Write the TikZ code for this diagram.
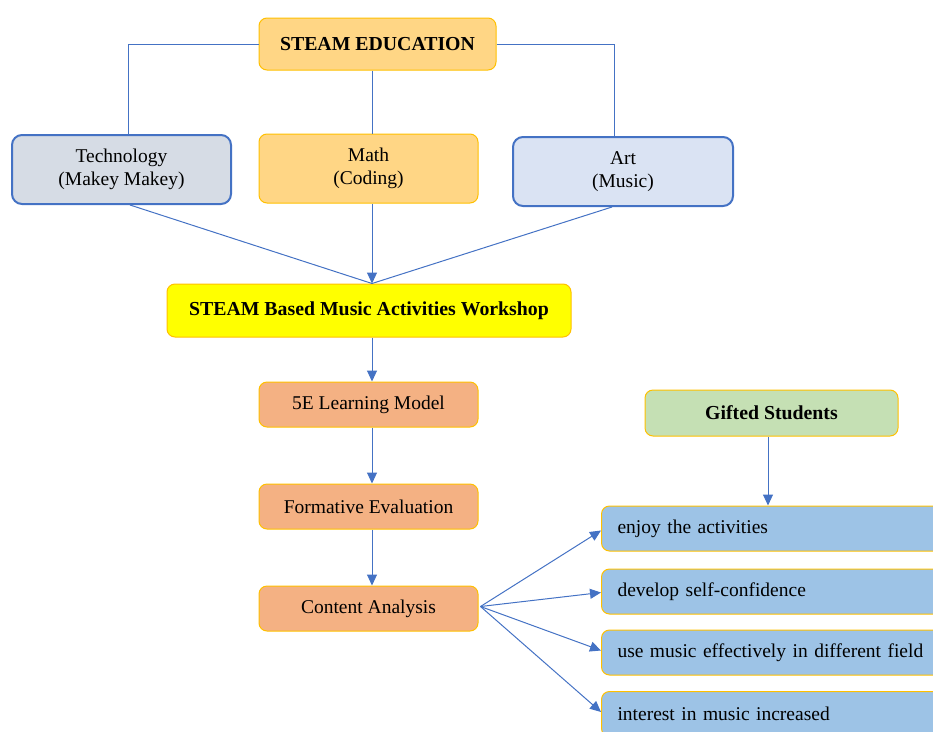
\documentclass[tikz,border=0pt]{standalone}
\usepackage{fontspec}
\setmainfont{Liberation Serif}
\usetikzlibrary{arrows.meta,calc}
\definecolor{lineblue}{HTML}{4472C4}
\definecolor{borderorg}{HTML}{FFC000}
\definecolor{seFill}{HTML}{FFD685}
\definecolor{techFill}{HTML}{D6DCE5}
\definecolor{artFill}{HTML}{DAE3F3}
\definecolor{wsFill}{HTML}{FFFF00}
\definecolor{stepFill}{HTML}{F4B183}
\definecolor{gsFill}{HTML}{C5E0B4}
\definecolor{resFill}{HTML}{9DC3E6}
\begin{document}
\begin{tikzpicture}[x=1pt,y=1pt,
  every node/.style={font=\fontsize{19.5}{23}\selectfont, align=center, inner sep=2pt},
  boldtxt/.style={font=\fontsize{19.8}{23}\selectfont\bfseries},
  orgbox/.style={draw=borderorg, line width=1pt, rounded corners=8pt},
  bluebox/.style={draw=lineblue, line width=2pt, rounded corners=10pt},
  conn/.style={draw=lineblue, line width=1pt},
  arr/.style={conn, -{Triangle[length=11pt,width=10pt]}},
  resbox/.style={orgbox, fill=resFill, minimum width=345pt, minimum height=45pt, inner xsep=16pt, text width=313pt, align=left, anchor=west}
]
\useasboundingbox (0,0) rectangle (933,-731);
\clip (0,0) rectangle (933,-731);
\coordinate (cx) at (372,0);

\node[orgbox, fill=seFill, minimum width=237pt, minimum height=52pt, boldtxt] (se) at (377.5,-44) {STEAM EDUCATION};
\node[bluebox, fill=techFill, minimum width=219pt, minimum height=69pt] (tech) at (121.5,-169.5) {Technology\\(Makey Makey)};
\node[orgbox, fill=seFill, minimum width=219pt, minimum height=69pt] (math) at (368.5,-168.5) {Math\\(Coding)};
\node[bluebox, fill=artFill, minimum width=220pt, minimum height=69pt] (art) at (623,-171.5) {Art\\(Music)};

\node[orgbox, fill=wsFill, minimum width=404pt, minimum height=53pt, boldtxt] (ws) at (369,-310.5) {STEAM Based Music Activities Workshop};
\node[orgbox, fill=stepFill, minimum width=219pt, minimum height=45pt] (e5) at (368.5,-404.5) {5E Learning Model};
\node[orgbox, fill=stepFill, minimum width=219pt, minimum height=45pt] (fe) at (368.5,-506.5) {Formative Evaluation};
\node[orgbox, fill=stepFill, minimum width=219pt, minimum height=45pt] (ca) at (368.5,-608.5) {Content Analysis};

\node[orgbox, fill=gsFill, minimum width=253pt, minimum height=46pt, boldtxt] (gs) at (771.5,-413) {Gifted Students};

\node[resbox] (r1) at (601,-528.5) {enjoy the activities};
\node[resbox] (r2) at (601,-591.5) {develop self-confidence};
\node[resbox] (r3) at (601,-652.5) {use music effectively in different field};
\node[resbox] (r4) at (601,-714) {interest in music increased};

% connectors
\draw[conn] (se.west) -| ([xshift=6.5pt]tech.north);
\draw[conn] (se.east) -| ([xshift=-9pt]art.north);
\draw[conn] (se.south -| cx) -- (math.north -| cx);
\coordinate (wsTop) at (ws.north -| cx);
\draw[conn] ([xshift=8.5pt]tech.south) -- (wsTop);
\draw[conn] ([xshift=-11pt]art.south) -- (wsTop);
\draw[arr] (math.south -| cx) -- (wsTop);
\draw[arr] (ws.south -| cx) -- (e5.north -| cx);
\draw[arr] (e5.south -| cx) -- (fe.north -| cx);
\draw[arr] (fe.south -| cx) -- (ca.north -| cx);
\draw[arr] (gs.south -| 768,0) -- (r1.north -| 768,0);
\coordinate (caE) at ([xshift=2pt,yshift=2pt]ca.east);
\draw[arr] (caE) -- ([yshift=-2pt]r1.west);
\draw[arr] (caE) -- ([yshift=-1pt]r2.west);
\draw[arr] (caE) -- ([yshift=2pt]r3.west);
\draw[arr] (caE) -- ([yshift=2pt]r4.west);
\end{tikzpicture}
\end{document}
